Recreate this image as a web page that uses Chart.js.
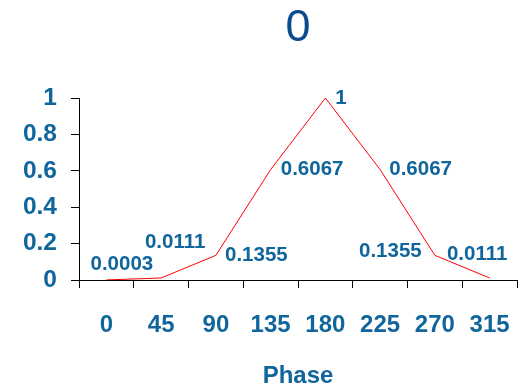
<!DOCTYPE html>
<html>
<head>
<meta charset="utf-8">
<script src="https://cdn.jsdelivr.net/npm/chart.js@4"></script>
<style>
  html, body { margin: 0; padding: 0; background: #fff; }
  #wrap { width: 525px; height: 386px; }
</style>
</head>
<body>
<div id="wrap"><canvas id="c" width="525" height="386"></canvas></div>
<script>
// Phase categories and normalised response
const phases = ['0', '45', '90', '135', '180', '225', '270', '315'];
const response = [0.0003, 0.0111, 0.1355, 0.6067, 1, 0.6067, 0.1355, 0.0111];
const valueLabels = ['0.0003', '0.0111', '0.1355', '0.6067', '1', '0.6067', '0.1355', '0.0111'];
const yTicks = [0, 0.2, 0.4, 0.6, 0.8, 1];

// Where each value label sits relative to its point (centre offsets, px)
const labelShift = [[15.5, -16], [14, -36], [40.5, 0], [41.5, 0], [15.5, 0], [40.5, 0], [-44.5, -4], [-12.5, -24]];

const BLUE = '#10669c';
const FONT = 'Arial, "Liberation Sans", sans-serif';

const valueLabelPlugin = {
  id: 'valueLabels',
  afterDatasetsDraw(chart) {
    const ctx = chart.ctx;
    const meta = chart.getDatasetMeta(0);
    ctx.save();
    ctx.font = 'bold 20.5px ' + FONT;
    ctx.fillStyle = BLUE;
    ctx.textAlign = 'center';
    ctx.textBaseline = 'middle';
    meta.data.forEach((pt, i) => {
      const s = labelShift[i];
      ctx.fillText(valueLabels[i], pt.x + s[0], pt.y + s[1]);
    });
    ctx.restore();
  }
};

new Chart(document.getElementById('c'), {
  type: 'line',
  data: {
    labels: phases,
    datasets: [{
      data: response,
      borderColor: '#ff0000',
      borderWidth: 1,
      pointRadius: 0,
      tension: 0,
      fill: false
    }]
  },
  options: {
    responsive: false,
    animation: false,
    layout: { padding: { top: 0, right: 8, bottom: 0, left: 0 } },
    plugins: {
      legend: { display: false },
      tooltip: { enabled: false },
      title: {
        display: true,
        text: '0',
        fullSize: false,
        color: '#0a4b8e',
        font: { family: FONT, size: 45, weight: 'normal', lineHeight: 1 },
        padding: { top: 6, bottom: 47 }
      }
    },
    scales: {
      x: {
        offset: true,
        grid: {
          offset: true,
          drawOnChartArea: false,
          drawTicks: true,
          tickLength: 8,
          color: '#000'
        },
        border: { display: true, color: '#000', width: 1 },
        ticks: {
          color: BLUE,
          font: { family: FONT, size: 24, weight: 'bold' },
          padding: 23,
          maxRotation: 0,
          autoSkip: false
        },
        title: {
          display: true,
          text: 'Phase',
          color: BLUE,
          font: { family: FONT, size: 24, weight: 'bold', lineHeight: 1 },
          padding: { top: 0, bottom: -2 }
        },
        afterFit(scale) {
          scale.height = 106;
          scale.paddingLeft = 0;
          scale.paddingRight = 0;
        }
      },
      y: {
        min: 0,
        max: 1,
        afterBuildTicks(scale) { scale.ticks = yTicks.map(v => ({ value: v })); },
        grid: {
          drawOnChartArea: false,
          drawTicks: true,
          tickLength: 8,
          color: '#000'
        },
        border: { display: true, color: '#000', width: 1 },
        ticks: {
          color: BLUE,
          font: { family: FONT, size: 24.5, weight: 'bold' },
          padding: 14,
          callback: v => String(Math.round(v * 10) / 10)
        },
        afterFit(scale) { scale.width = 79; }
      }
    }
  },
  plugins: [valueLabelPlugin]
});
</script>
</body>
</html>
